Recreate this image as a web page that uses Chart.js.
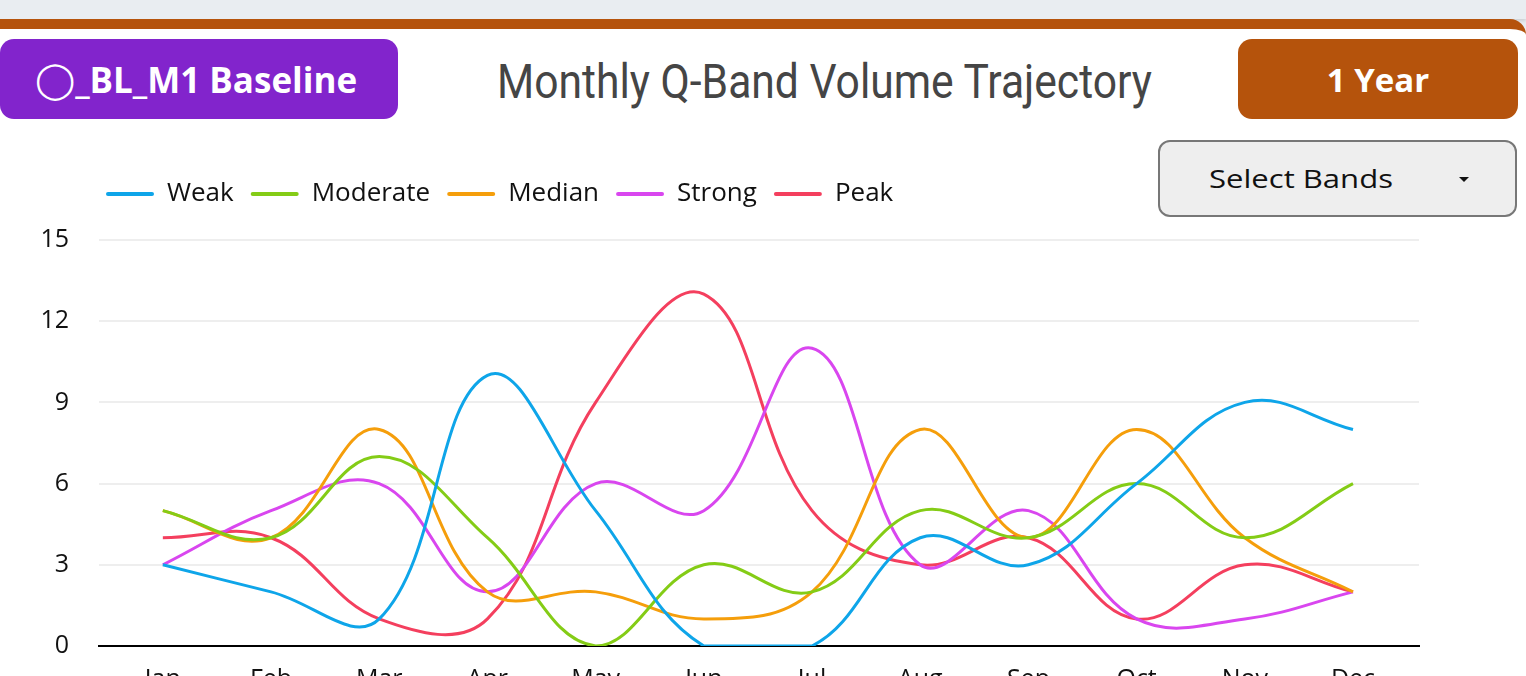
<!DOCTYPE html>
<html>
<head>
<meta charset="utf-8">
<script src="https://cdn.jsdelivr.net/npm/chart.js"></script>
<style>
  html, body { margin: 0; padding: 0; width: 1526px; height: 676px; overflow: hidden; background: #e9edf1; }
  .card {
    position: absolute; left: -20px; top: 19px; width: 1546px; height: 720px;
    background: #fff; border-top: 10px solid #b5530c; border-radius: 16px;
    box-sizing: border-box;
  }
  .topshade { position: absolute; left: 0; top: 0; width: 1526px; height: 19px; background: #e9edf1; box-shadow: 0 2px 3px rgba(0,0,0,0.12); }
  .btn {
    position: absolute; top: 39px; height: 80px; border-radius: 14px; color: #fff;
    font-family: "Open Sans", sans-serif; font-weight: 700; font-size: 33px;
    display: flex; align-items: center; justify-content: center; white-space: nowrap;
  }
  #baseline { left: 0; width: 398px; background: #8224cc; font-size: 35px; padding-right: 6px; box-sizing: border-box; }
  #baseline .ring { font-family: "DejaVu Sans"; font-weight: 400; font-size: 36px; }
  #year { left: 1238px; width: 280px; background: #b5530c; }
  #title {
    position: absolute; left: 497px; top: 54px; font-family: Roboto, sans-serif; font-size: 48px;
    color: #454545; white-space: nowrap; transform-origin: 0 0; line-height: 56px;
  }
  #bands {
    position: absolute; left: 1158px; top: 140px; width: 359px; height: 77px; box-sizing: border-box;
    background: #eeeeee; border: 2px solid #777; border-radius: 12px;
    font-family: "Open Sans", sans-serif; font-size: 26px; color: #111;
  }
  #bands span { position: absolute; left: 49px; top: 18px; white-space: nowrap; transform-origin: 0 0; }
  #bands .caret { position: absolute; left: 299px; top: 35px; width: 0; height: 0;
    border-left: 5px solid transparent; border-right: 5px solid transparent; border-top: 5px solid #111; }
  #chartBox { position: absolute; left: 0; top: 150px; width: 1526px; height: 556px; }
</style>
</head>
<body>
<div class="topshade"></div>
<div class="card"></div>
<div id="chartBox"><canvas id="bandChart"></canvas></div>
<div class="btn" id="baseline"><span class="ring">◯</span>_BL_M1 Baseline</div>
<div id="title">Monthly Q-Band Volume Trajectory</div>
<div class="btn" id="year">1 Year</div>
<div id="bands"><span id="bandsText">Select Bands</span><div class="caret"></div></div>

<script>
// chart data
const months = ['Jan', 'Feb', 'Mar', 'Apr', 'May', 'Jun', 'Jul', 'Aug', 'Sep', 'Oct', 'Nov', 'Dec'];
const weak     = [3, 2, 1, 10, 5, 0, 0, 4, 3, 6, 9, 8];
const moderate = [5, 4, 7, 4, 0, 3, 2, 5, 4, 6, 4, 6];
const median   = [5, 4, 8, 2, 2, 1, 2, 8, 4, 8, 4, 2];
const strong   = [3, 5, 6, 2, 6, 5, 11, 3, 5, 1, 1, 2];
const peak     = [4, 4, 1, 1, 9, 13, 5, 3, 4, 1, 3, 2];
const yTicks = [0, 3, 6, 9, 12, 15];

// stretch text to the width it has in the picture
function fitWidth(el, w) {
  el.style.transform = 'scaleX(' + (w / el.offsetWidth) + ')';
}
fitWidth(document.getElementById('title'), 655);
fitWidth(document.getElementById('bandsText'), 184);

function series(label, values, color) {
  return {
    label: label,
    data: values.map((v, i) => ({ x: i, y: v })),
    borderColor: color,
    backgroundColor: color,
    borderWidth: 3,
    pointRadius: 0,
    pointHoverRadius: 0,
    tension: 0.4,
    fill: false
  };
}

const tickFont = { family: '"Open Sans", sans-serif', size: 25 };

// legend: more room below it, and start it further right
const legendTweak = {
  id: 'legendTweak',
  beforeInit(chart) {
    const legend = chart.legend;
    const fit = legend.fit;
    legend.fit = function () {
      fit.call(this);
      this.height += 23;
    };
    const draw = legend.draw;
    legend.draw = function () {
      const left = this.left;
      this.left += 89;
      draw.call(this);
      this.left = left;
    };
  }
};

const ctx = document.getElementById('bandChart').getContext('2d');
new Chart(ctx, {
  type: 'line',
  data: {
    datasets: [
      series('Weak', weak, '#0ea5e9'),
      series('Moderate', moderate, '#84cc16'),
      series('Median', median, '#f59e0b'),
      series('Strong', strong, '#d946ef'),
      series('Peak', peak, '#f43f5e')
    ]
  },
  options: {
    responsive: true,
    maintainAspectRatio: false,
    animation: false,
    layout: { padding: { left: 0, right: 107, top: 14, bottom: 0 } },
    plugins: {
      legend: {
        display: true,
        position: 'top',
        align: 'start',
        labels: {
          color: '#111',
          font: { family: '"Open Sans", sans-serif', size: 26 },
          boxWidth: 48,
          boxHeight: 4,
          padding: 17,
          generateLabels(chart) {
            const items = Chart.defaults.plugins.legend.labels.generateLabels(chart);
            items.forEach(item => { item.lineWidth = 0; item.borderRadius = 2; });
            return items;
          }
        }
      },
      tooltip: { enabled: false }
    },
    scales: {
      x: {
        type: 'linear',
        min: -0.59,
        max: 11.61,
        grid: { display: false },
        border: { display: true, color: '#000', width: 2 },
        afterBuildTicks(scale) {
          scale.ticks = months.map((m, i) => ({ value: i }));
        },
        ticks: {
          color: '#111',
          font: tickFont,
          padding: 11,
          maxRotation: 0,
          autoSkip: false,
          callback: (v) => months[v]
        }
      },
      y: {
        min: 0,
        max: 15,
        afterFit(scale) { scale.width = 99; },
        afterBuildTicks(scale) {
          scale.ticks = yTicks.map(v => ({ value: v }));
        },
        grid: { color: '#eeeeee', lineWidth: 2, drawTicks: false },
        border: { display: false },
        ticks: { color: '#111', font: tickFont, padding: 30 }
      }
    }
  },
  plugins: [legendTweak]
});
</script>
</body>
</html>
